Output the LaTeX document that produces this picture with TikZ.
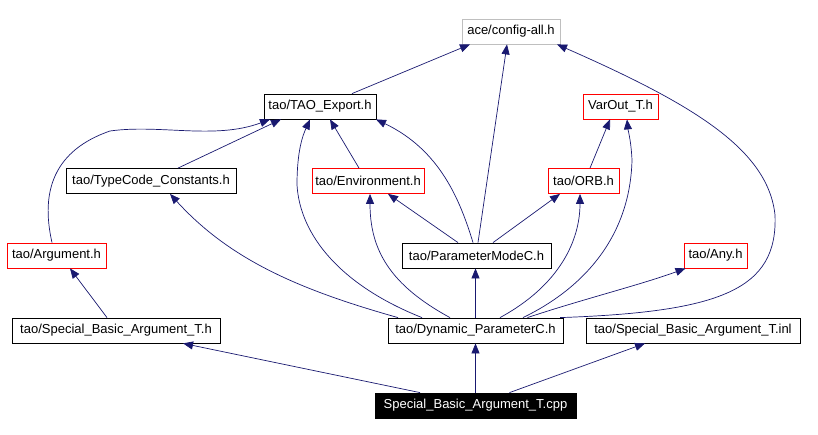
\documentclass[tikz,border=0pt]{standalone}
\usepackage{fontspec}
\setmainfont{Liberation Sans}
\usetikzlibrary{arrows.meta}
\definecolor{edgeblue}{HTML}{191970}
\definecolor{grayframe}{HTML}{BFBFBF}
\tikzset{
  filebox/.style={draw=black, line width=0.8pt, rectangle, inner sep=0pt, minimum height=25pt,
    font=\fontsize{13}{15}\selectfont, text=black},
  redbox/.style={filebox, draw=red},
  graybox/.style={filebox, draw=grayframe},
  rootbox/.style={filebox, fill=black, text=white},
  dep/.style={draw=edgeblue, line width=0.7pt, -{Triangle[length=10pt,width=8pt]}, color=edgeblue},
}
\begin{document}
\begin{tikzpicture}[x=1pt,y=-1pt]
\useasboundingbox (0,0) rectangle (818,435);
% nodes
\node[graybox, minimum width=98pt]  (cfg) at (511,31.5) {ace/config-all.h};
\node[filebox, minimum width=112pt] (tao) at (320,106.5) {tao/TAO\_Export.h};
\node[redbox,  minimum width=75pt]  (var) at (620.5,106.5) {VarOut\_T.h};
\node[filebox, minimum width=170pt] (tc)  at (151,181) {tao/TypeCode\_Constants.h};
\node[redbox,  minimum width=112pt] (env) at (368,181) {tao/Environment.h};
\node[redbox,  minimum width=71pt]  (orb) at (583.5,181) {tao/ORB.h};
\node[redbox,  minimum width=99pt]  (arg) at (56.5,255.5) {tao/Argument.h};
\node[filebox, minimum width=149pt] (pm)  at (476.5,255.5) {tao/ParameterModeC.h};
\node[redbox,  minimum width=63pt]  (any) at (715.5,255.5) {tao/Any.h};
\node[filebox, minimum width=208pt] (sbh) at (116,330.5) {tao/Special\_Basic\_Argument\_T.h};
\node[filebox, minimum width=175pt] (dyn) at (475.5,330.5) {tao/Dynamic\_ParameterC.h};
\node[filebox, minimum width=214pt] (inl) at (693,330.5) {tao/Special\_Basic\_Argument\_T.inl};
\node[rootbox, minimum width=201pt] (cpp) at (475.5,405.5) {Special\_Basic\_Argument\_T.cpp};
% edges
\draw[dep] ([xshift=32pt]tao.north) -- ([xshift=-41pt]cfg.south);
\draw[dep] ([xshift=1.5pt]pm.north) -- ([xshift=-4pt]cfg.south);
\draw[dep] ([xshift=84.5pt]dyn.north) .. controls (720,312) and (778,290) .. (775,215)
   .. controls (768,150) and (695,105) .. ([xshift=46pt]cfg.south);
\draw[dep] ([xshift=27pt]tc.north) -- ([xshift=-39pt]tao.south);
\draw[dep] ([xshift=-4.5pt]arg.north) .. controls (40,190) and (55,150) .. (110,131)
   .. controls (160,124) and (215,140) .. ([xshift=-50pt]tao.south);
\draw[dep] ([xshift=-9pt]env.north) -- ([xshift=10pt]tao.south);
\draw[dep] ([xshift=-53.5pt]dyn.north) .. controls (340,285) and (300,235) .. (297,185)
   .. controls (297,150) and (303,135) .. ([xshift=-10pt]tao.south);
\draw[dep] ([xshift=-3.5pt]pm.north) .. controls (460,200) and (440,150) .. ([xshift=56pt]tao.south);
\draw[dep] ([xshift=6.5pt]orb.north) -- ([xshift=-10.5pt]var.south);
\draw[dep] ([xshift=47.5pt]dyn.north) .. controls (580,290) and (630,240) .. (632,160)
   .. controls (631,140) and (628,130) .. ([xshift=6.5pt]var.south);
\draw[dep] ([xshift=-18.5pt]pm.north) -- ([xshift=20pt]env.south);
\draw[dep] ([xshift=-25.5pt]dyn.north) .. controls (390,285) and (370,250) .. ([xshift=2pt]env.south);
\draw[dep] ([xshift=16.5pt]pm.north) -- ([xshift=-23.5pt]orb.south);
\draw[dep] ([xshift=24.5pt]dyn.north) .. controls (560,285) and (580,240) .. ([xshift=-3.5pt]orb.south);
\draw[dep] ([xshift=-77.5pt]dyn.north) .. controls (300,290) and (230,260) .. ([xshift=19pt]tc.south);
\draw[dep] ([xshift=52pt]dyn.north) .. controls (580,300) and (640,285) .. ([xshift=-30pt]any.south);
\draw[dep] (dyn.north) -- (dyn.north |- pm.south);
\draw[dep] ([xshift=-9pt]sbh.north) -- ([xshift=13.5pt]arg.south);
\draw[dep] ([xshift=-55.5pt]cpp.north) -- ([xshift=67pt]sbh.south);
\draw[dep] (cpp.north) -- (dyn.south);
\draw[dep] ([xshift=34pt]cpp.north) -- ([xshift=-48pt]inl.south);
\end{tikzpicture}
\end{document}
